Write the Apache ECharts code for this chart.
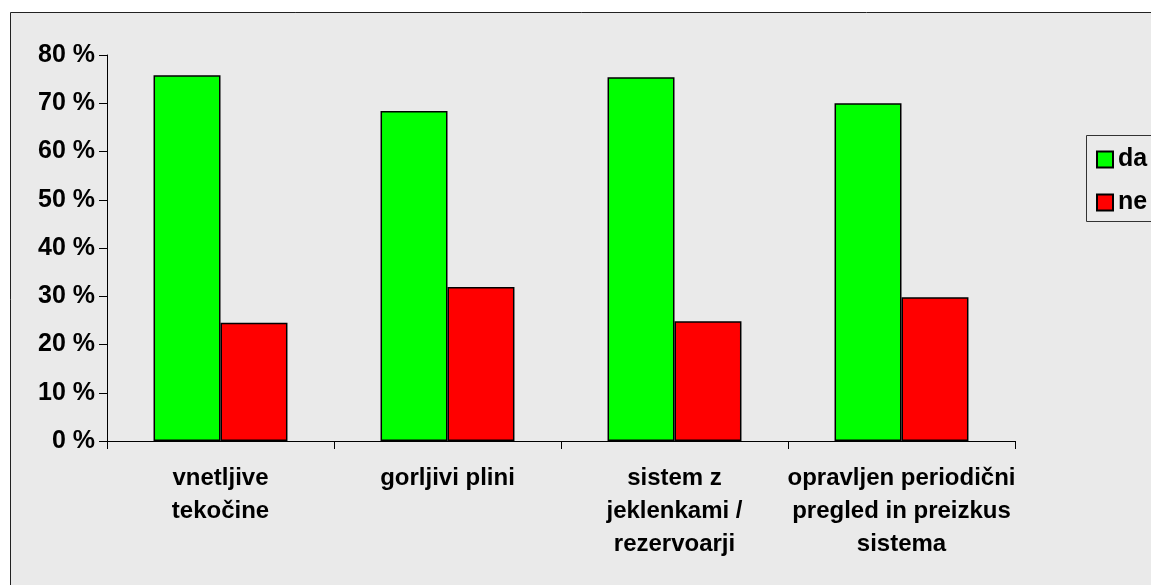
<!DOCTYPE html>
<html>
<head>
<meta charset="utf-8">
<script src="https://cdn.jsdelivr.net/npm/echarts@6/dist/echarts.min.js"></script>
<style>
  html, body { margin: 0; padding: 0; background: #ffffff; }
  #chart { width: 1151px; height: 585px; }
</style>
</head>
<body>
<div id="chart"></div>
<script>
// Categories (multi-line labels as shown under the axis)
const categories = [
  'vnetljive\ntekočine',
  'gorljivi plini',
  'sistem z\njeklenkami /\nrezervoarji',
  'opravljen periodični\npregled in preizkus\nsistema'
];
// Share of answers in percent
const daValues = [75.8, 68.4, 75.4, 70.0];
const neValues = [24.5, 31.9, 24.8, 29.8];
const seriesNames = ['da', 'ne'];

const FONT = '"Liberation Sans", Arial, sans-serif';

const chart = echarts.init(document.getElementById('chart'), null, { renderer: 'canvas' });

chart.setOption({
  backgroundColor: '#ffffff',
  animation: false,
  graphic: {
    elements: [
      {
        type: 'rect',
        z: -10,
        silent: true,
        shape: { x: 10.5, y: 12.5, width: 1300, height: 700 },
        style: { fill: '#eaeaea', stroke: '#222222', lineWidth: 1 }
      },
      {
        type: 'rect',
        z: -5,
        silent: true,
        shape: { x: 1086.5, y: 135.5, width: 120, height: 86 },
        style: { fill: '#eaeaea', stroke: '#333333', lineWidth: 1 }
      }
    ]
  },
  grid: {
    left: 107,
    right: 136,
    top: 55,
    bottom: 144,
    containLabel: false
  },
  legend: {
    orient: 'vertical',
    left: 1096,
    top: 147,
    padding: 0,
    itemGap: 18,
    itemWidth: 16,
    itemHeight: 16,
    icon: 'rect',
    data: seriesNames,
    textStyle: {
      fontFamily: FONT,
      fontWeight: 'bold',
      fontSize: 25,
      color: '#000000'
    }
  },
  xAxis: {
    type: 'category',
    data: categories,
    axisLine: { show: true, lineStyle: { color: '#000000', width: 1 } },
    axisTick: { show: true, length: 8, lineStyle: { color: '#000000' } },
    axisLabel: {
      interval: 0,
      margin: 21,
      fontFamily: FONT,
      fontWeight: 'bold',
      fontSize: 24,
      lineHeight: 33,
      color: '#000000',
      align: 'center'
    },
    splitLine: { show: false }
  },
  yAxis: {
    type: 'value',
    min: 0,
    max: 80,
    interval: 10,
    axisLine: { show: true, lineStyle: { color: '#000000', width: 1 } },
    axisTick: { show: true, length: 8, lineStyle: { color: '#000000' } },
    axisLabel: {
      margin: 12,
      formatter: '{value} %',
      fontFamily: FONT,
      fontWeight: 'bold',
      fontSize: 25,
      color: '#000000'
    },
    splitLine: { show: false }
  },
  series: [
    {
      name: seriesNames[0],
      type: 'bar',
      data: daValues,
      barGap: '0%',
      barCategoryGap: '41%',
      itemStyle: { color: '#00ff00', borderColor: '#000000', borderWidth: 1.5 }
    },
    {
      name: seriesNames[1],
      type: 'bar',
      data: neValues,
      barGap: '0%',
      barCategoryGap: '41%',
      itemStyle: { color: '#ff0000', borderColor: '#000000', borderWidth: 1.5 }
    }
  ]
});
</script>
</body>
</html>
